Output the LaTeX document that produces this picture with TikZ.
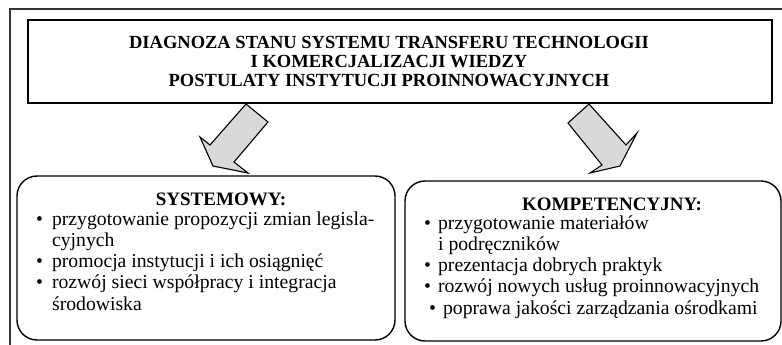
\documentclass[tikz,border=0pt]{standalone}
\usepackage{fontspec}
\setmainfont{Liberation Serif}
\usetikzlibrary{positioning}
\definecolor{arrowgray}{HTML}{D9D9D9}
\begin{document}
\begin{tikzpicture}[x=1pt,y=-1pt,
    frame/.style={line width=1.3pt,black!80},
    titlebox/.style={draw,line width=2pt,inner sep=0pt,minimum width=744pt,minimum height=83pt},
    groupbox/.style={draw,line width=1.4pt,rounded corners=20pt,inner sep=0pt},
    blockarrow/.style={draw,line width=1.1pt,fill=arrowgray,line join=miter},
    heading/.style={font=\fontsize{19}{19}\selectfont\bfseries,inner sep=0pt},
    itemlist/.style={font=\fontsize{19.7}{21.3}\selectfont,inner sep=0pt,anchor=base west}]
  \useasboundingbox (0,0) rectangle (782,345);
  \draw[frame] (10,345) -- (10,9) -- (782,9);
  \node[titlebox] (diag) at (400,61.5) {};
  \node[heading,align=center,font=\fontsize{18.5}{19}\selectfont\bfseries] (diagtext) at (389,62)
    {DIAGNOZA STANU SYSTEMU TRANSFERU TECHNOLOGII\\I KOMERCJALIZACJI WIEDZY\\POSTULATY INSTYTUCJI PROINNOWACYJNYCH};
  % arrows
  \draw[blockarrow] (246,104) -- (268,122) -- (234,162) -- (248,173) -- (213,166) -- (200,137) -- (210,145) -- cycle;
  \draw[blockarrow] (589,104) -- (568,123) -- (602,165) -- (590,173) -- (620,166) -- (637,133) -- (626,145) -- cycle;
  % boxes
  \node[groupbox,minimum width=378pt,minimum height=164pt] (sys) at (206,258) {};
  \node[groupbox,minimum width=376pt,minimum height=160pt] (komp) at (593,261) {};
  \node[heading,anchor=base] (systitle) at (221,205) {SYSTEMOWY:};
  \node[heading,anchor=base] (komptitle) at (612,210) {KOMPETENCYJNY:};
  \node[itemlist] (syslist) at (36,225) {\begin{tabular}[t]{@{}l@{\hspace{9pt}}l@{}}
    \textbullet & przygotowanie propozycji zmian legisla-\\
     & cyjnych\\
    \textbullet & promocja instytucji i ich osiągnięć\\
    \textbullet & rozwój sieci współpracy i integracja\\
     & środowiska
  \end{tabular}};
  \node[itemlist] (komplist) at (424,229) {\begin{tabular}[t]{@{}l@{\hspace{7pt}}l@{}}
    \textbullet & przygotowanie materiałów\\
     & i podręczników\\
    \textbullet & prezentacja dobrych praktyk\\
    \textbullet & rozwój nowych usług proinnowacyjnych\\
    \multicolumn{2}{@{}l@{}}{\hspace{5pt}\textbullet\hspace{7pt}poprawa jakości zarządzania ośrodkami}
  \end{tabular}};
\end{tikzpicture}
\end{document}
